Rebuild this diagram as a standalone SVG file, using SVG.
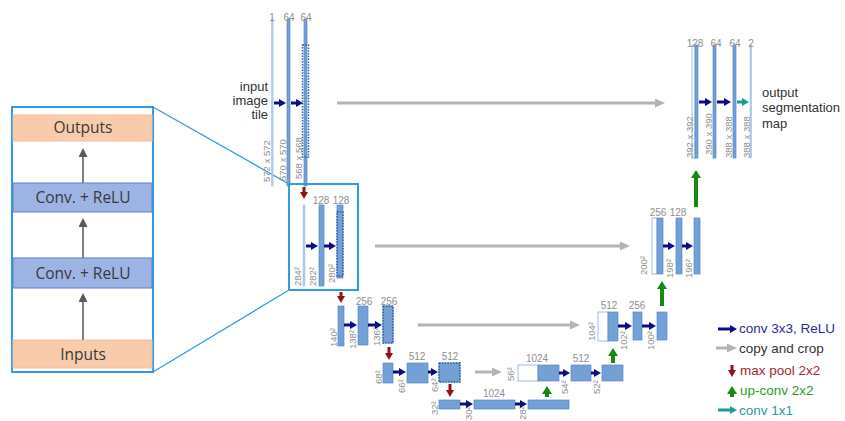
<svg xmlns="http://www.w3.org/2000/svg" width="845" height="421" viewBox="0 0 845 421">
<style>
.bar{fill:#74a0d6;stroke:#5b88c6;stroke-width:0.7}
.lite{fill:#b4cdee;stroke:#9dbbe4;stroke-width:0.5}
.white{fill:#ffffff;stroke:#9dbbe4;stroke-width:1}
.crop{fill:none;stroke:#2d5fae;stroke-width:1.5;stroke-dasharray:1.5 1.3}
.num{font-family:"Liberation Sans",Arial,sans-serif;font-size:10px;fill:#8f8f8f;text-anchor:middle}
.rot{font-family:"Liberation Sans",Arial,sans-serif;font-size:9.5px;fill:#8f8f8f}
.lbl{font-family:"Liberation Sans",Arial,sans-serif;font-size:13px;fill:#333333}
.conv{stroke:#0c0c84;stroke-width:3;fill:none}
.teal{stroke:#1a9a90;stroke-width:3;fill:none}
.copy{stroke:#b4b4b4;stroke-width:3;fill:none}
.pool{stroke:#8b1414;stroke-width:3;fill:none}
.up{stroke:#138a13;stroke-width:4;fill:none}
.box{stroke-width:1}
.peach{fill:#f8cbad;stroke:#f3bf9c}
.blue{fill:#9cb3e3;stroke:#5b7fc6}
.itext{font-family:"Open Sans","Noto Sans",sans-serif;font-size:15.5px;fill:#3a3a3a;text-anchor:middle}
.iarrow{stroke:#808080;stroke-width:2;fill:none}
.frame{fill:none;stroke:#2f9be6;stroke-width:2}
.link{stroke:#2f9be6;stroke-width:1.3;fill:none}
.leg{font-family:"Liberation Sans",Arial,sans-serif;font-size:13.5px}
</style>
<defs>
<marker id="mConv" markerUnits="userSpaceOnUse" markerWidth="7" markerHeight="8" refX="1" refY="4" orient="auto"><path d="M0,0 L7,4 L0,8 Z" fill="#0c0c84"/></marker>
<marker id="mTeal" markerUnits="userSpaceOnUse" markerWidth="7" markerHeight="8" refX="1" refY="4" orient="auto"><path d="M0,0 L7,4 L0,8 Z" fill="#1a9a90"/></marker>
<marker id="mCopy" markerUnits="userSpaceOnUse" markerWidth="10" markerHeight="9" refX="1" refY="4.5" orient="auto"><path d="M0,0 L10,4.5 L0,9 Z" fill="#b4b4b4"/></marker>
<marker id="mPool" markerUnits="userSpaceOnUse" markerWidth="7" markerHeight="8" refX="1" refY="4" orient="auto"><path d="M0,0 L7,4 L0,8 Z" fill="#8b1414"/></marker>
<marker id="mUp" markerUnits="userSpaceOnUse" markerWidth="8" markerHeight="10" refX="1" refY="5" orient="auto"><path d="M0,0 L8,5 L0,10 Z" fill="#138a13"/></marker>
<marker id="mGray" markerUnits="userSpaceOnUse" markerWidth="9" markerHeight="9" refX="1" refY="4.5" orient="auto"><path d="M0,0 L9,4.5 L0,9 Z" fill="#595959"/></marker>
</defs>
<rect width="845" height="421" fill="#ffffff"/>

<!-- inset -->
<g id="inset">
<rect class="frame" x="12" y="107" width="141" height="265"/>
<g id="inset-outputs"><rect class="box peach" x="13" y="115" width="139" height="26"/><text class="itext" x="83" y="133">Outputs</text></g>
<g id="inset-conv2"><rect class="box blue" x="13" y="183" width="139" height="29"/><text class="itext" x="83" y="203">Conv. + ReLU</text></g>
<g id="inset-conv1"><rect class="box blue" x="13" y="258" width="139" height="30"/><text class="itext" x="83" y="279">Conv. + ReLU</text></g>
<g id="inset-inputs"><rect class="box peach" x="13" y="340" width="139" height="28"/><text class="itext" x="83" y="360">Inputs</text></g>
</g>
<g id="inset-connectors">
<line class="iarrow" x1="83" y1="183" x2="83" y2="156" marker-end="url(#mGray)"/>
<line class="iarrow" x1="83" y1="258" x2="83" y2="226" marker-end="url(#mGray)"/>
<line class="iarrow" x1="83" y1="340" x2="83" y2="301" marker-end="url(#mGray)"/>
<line class="link" x1="153" y1="107" x2="289" y2="184"/>
<line class="link" x1="153" y1="372" x2="289" y2="290"/>
</g>

<!-- level 1 encoder -->
<g id="enc1">
<text class="lbl" text-anchor="end" x="268" y="91">input</text>
<text class="lbl" text-anchor="end" x="268" y="105">image</text>
<text class="lbl" text-anchor="end" x="268" y="119">tile</text>
<rect class="lite" x="271.5" y="19" width="1.6" height="167"/>
<rect class="bar" x="287" y="19" width="3" height="167"/>
<rect class="bar" x="304" y="19" width="3" height="167"/>
<rect class="crop" x="302.5" y="45" width="6" height="112"/>
<text class="num" x="272" y="21">1</text>
<text class="num" x="289" y="21">64</text>
<text class="num" x="306" y="21">64</text>
<text class="rot" transform="translate(270,182) rotate(-90)">572 x 572</text>
<text class="rot" transform="translate(286,181) rotate(-90)">570 x 570</text>
<text class="rot" transform="translate(302,179) rotate(-90)">568 x 568</text>
</g>

<!-- level 2 encoder -->
<g id="enc2">
<rect class="frame" x="289" y="184" width="69" height="106" stroke-width="2.5"/>
<rect class="lite" x="303" y="205" width="2" height="81"/>
<rect class="bar" x="319" y="205" width="5" height="81"/>
<rect class="bar" x="337" y="205" width="6" height="73"/>
<rect class="crop" x="337" y="212" width="6" height="64"/>
<text class="num" x="321" y="204">128</text>
<text class="num" x="341" y="204">128</text>
<text class="rot" transform="translate(301,286) rotate(-90)">284²</text>
<text class="rot" transform="translate(316,286) rotate(-90)">282²</text>
<text class="rot" transform="translate(335,283) rotate(-90)">280²</text>
</g>

<!-- level 3 encoder -->
<g id="enc3">
<rect class="bar" x="338" y="306" width="6" height="40"/>
<rect class="bar" x="358" y="306" width="10" height="39"/>
<rect class="bar" x="383" y="306" width="10" height="37"/>
<rect class="crop" x="383" y="306" width="10" height="37"/>
<text class="num" x="364" y="305">256</text>
<text class="num" x="389" y="305">256</text>
<text class="rot" transform="translate(337,347) rotate(-90)">140²</text>
<text class="rot" transform="translate(356,349) rotate(-90)">138²</text>
<text class="rot" transform="translate(380,346) rotate(-90)">136²</text>
</g>

<!-- level 4 encoder -->
<g id="enc4">
<rect class="bar" x="383" y="363" width="10" height="20"/>
<rect class="bar" x="407" y="363" width="21" height="20"/>
<rect class="bar" x="439" y="363" width="21" height="19"/>
<rect class="crop" x="439" y="363" width="21" height="19"/>
<text class="num" x="417" y="360">512</text>
<text class="num" x="450" y="360">512</text>
<text class="rot" transform="translate(382,384) rotate(-90)">68²</text>
<text class="rot" transform="translate(405,393) rotate(-90)">66²</text>
<text class="rot" transform="translate(438,392) rotate(-90)">64²</text>
</g>

<!-- level 5 bottom -->
<g id="bottom">
<rect class="bar" x="439" y="400" width="21" height="9"/>
<rect class="bar" x="474" y="400" width="41" height="9"/>
<rect class="bar" x="528" y="400" width="41" height="9"/>
<text class="num" x="494" y="397">1024</text>
<text class="rot" transform="translate(438,415) rotate(-90)">32²</text>
<text class="rot" transform="translate(472,420) rotate(-90)">30²</text>
<text class="rot" transform="translate(526,420) rotate(-90)">28²</text>
</g>

<!-- level 4 decoder -->
<g id="dec4">
<rect class="white" x="518" y="365" width="20" height="16"/>
<rect class="bar" x="538" y="365" width="21" height="16"/>
<rect class="bar" x="571" y="365" width="20" height="16"/>
<rect class="bar" x="602" y="365" width="21" height="16"/>
<text class="num" x="537" y="362">1024</text>
<text class="num" x="581" y="362">512</text>
<text class="rot" transform="translate(514,381) rotate(-90)">56²</text>
<text class="rot" transform="translate(568,394) rotate(-90)">54²</text>
<text class="rot" transform="translate(600,394) rotate(-90)">52²</text>
</g>

<!-- level 3 decoder -->
<g id="dec3">
<rect class="white" x="598" y="312" width="10" height="29"/>
<rect class="bar" x="608" y="312" width="10" height="29"/>
<rect class="bar" x="633" y="312" width="9" height="28"/>
<rect class="bar" x="657" y="312" width="10" height="28"/>
<text class="num" x="609" y="309">512</text>
<text class="num" x="637" y="309">256</text>
<text class="rot" transform="translate(595,341) rotate(-90)">104²</text>
<text class="rot" transform="translate(627,350) rotate(-90)">102²</text>
<text class="rot" transform="translate(654,350) rotate(-90)">100²</text>
</g>

<!-- level 2 decoder -->
<g id="dec2">
<rect class="white" x="652" y="218" width="5" height="56"/>
<rect class="bar" x="657" y="218" width="6" height="56"/>
<rect class="bar" x="676" y="218" width="6" height="56"/>
<rect class="bar" x="694" y="218" width="6" height="56"/>
<text class="num" x="658" y="216">256</text>
<text class="num" x="678" y="216">128</text>
<text class="rot" transform="translate(647,275) rotate(-90)">200²</text>
<text class="rot" transform="translate(673,278) rotate(-90)">198²</text>
<text class="rot" transform="translate(692,278) rotate(-90)">196²</text>
</g>

<!-- level 1 decoder -->
<g id="dec1">
<rect class="white" x="692" y="45" width="3" height="113"/>
<rect class="bar" x="695" y="45" width="3" height="113"/>
<rect class="bar" x="713" y="45" width="3" height="113"/>
<rect class="bar" x="733" y="45" width="3" height="113"/>
<rect class="lite" x="750" y="45" width="1.6" height="113"/>
<text class="num" x="695" y="47">128</text>
<text class="num" x="716" y="47">64</text>
<text class="num" x="735" y="47">64</text>
<text class="num" x="751" y="47">2</text>
<text class="rot" transform="translate(693,158) rotate(-90)">392 x 392</text>
<text class="rot" transform="translate(712,155) rotate(-90)">390 x 390</text>
<text class="rot" transform="translate(732,158) rotate(-90)">388 x 388</text>
<text class="rot" transform="translate(750,158) rotate(-90)">388 x 388</text>
<text class="lbl" x="762" y="97">output</text>
<text class="lbl" x="762" y="112">segmentation</text>
<text class="lbl" x="762" y="128">map</text>
</g>

<!-- connectors -->
<g id="connectors">
<line class="conv" x1="274" y1="103" x2="280" y2="103" marker-end="url(#mConv)"/>
<line class="conv" x1="291" y1="103" x2="297" y2="103" marker-end="url(#mConv)"/>
<line class="conv" x1="306" y1="246" x2="312" y2="246" marker-end="url(#mConv)"/>
<line class="conv" x1="324" y1="246" x2="330" y2="246" marker-end="url(#mConv)"/>
<line class="conv" x1="344" y1="325" x2="351" y2="325" marker-end="url(#mConv)"/>
<line class="conv" x1="368" y1="325" x2="376" y2="325" marker-end="url(#mConv)"/>
<line class="conv" x1="393" y1="372" x2="400" y2="372" marker-end="url(#mConv)"/>
<line class="conv" x1="428" y1="372" x2="432" y2="372" marker-end="url(#mConv)"/>
<line class="conv" x1="460" y1="404" x2="467" y2="404" marker-end="url(#mConv)"/>
<line class="conv" x1="515" y1="404" x2="521" y2="404" marker-end="url(#mConv)"/>
<line class="conv" x1="559" y1="373" x2="564" y2="373" marker-end="url(#mConv)"/>
<line class="conv" x1="591" y1="373" x2="595" y2="373" marker-end="url(#mConv)"/>
<line class="conv" x1="618" y1="326" x2="626" y2="326" marker-end="url(#mConv)"/>
<line class="conv" x1="642" y1="326" x2="650" y2="326" marker-end="url(#mConv)"/>
<line class="conv" x1="663" y1="246" x2="669" y2="246" marker-end="url(#mConv)"/>
<line class="conv" x1="682" y1="246" x2="687" y2="246" marker-end="url(#mConv)"/>
<line class="conv" x1="699" y1="102" x2="706" y2="102" marker-end="url(#mConv)"/>
<line class="conv" x1="717" y1="102" x2="725" y2="102" marker-end="url(#mConv)"/>
<line class="teal" x1="737" y1="102" x2="743" y2="102" marker-end="url(#mTeal)"/>
<line class="copy" x1="337" y1="103" x2="656" y2="103" marker-end="url(#mCopy)"/>
<line class="copy" x1="375" y1="246" x2="621" y2="246" marker-end="url(#mCopy)"/>
<line class="copy" x1="418" y1="325" x2="571" y2="325" marker-end="url(#mCopy)"/>
<line class="copy" x1="475" y1="372" x2="493" y2="372" marker-end="url(#mCopy)"/>
<line class="pool" x1="304" y1="187" x2="304" y2="193" marker-end="url(#mPool)"/>
<line class="pool" x1="341" y1="292" x2="341" y2="297" marker-end="url(#mPool)"/>
<line class="pool" x1="389" y1="347" x2="389" y2="354" marker-end="url(#mPool)"/>
<line class="pool" x1="450" y1="384" x2="450" y2="391" marker-end="url(#mPool)"/>
<line class="up" x1="547" y1="397" x2="547" y2="393" marker-end="url(#mUp)"/>
<line class="up" x1="613" y1="363" x2="613" y2="355" marker-end="url(#mUp)"/>
<line class="up" x1="662" y1="306" x2="662" y2="288" marker-end="url(#mUp)"/>
<line class="up" x1="696" y1="207" x2="696" y2="177" marker-end="url(#mUp)"/>
</g>

<!-- legend -->
<g id="legend">
<line class="conv" x1="718" y1="329" x2="731" y2="329" marker-end="url(#mConv)"/>
<text class="leg" x="739" y="333" fill="#2b2b96">conv 3x3, ReLU</text>
<line class="copy" x1="716" y1="348" x2="728" y2="348" marker-end="url(#mCopy)"/>
<text class="leg" x="739" y="353" fill="#333333">copy and crop</text>
<line class="pool" x1="732" y1="365" x2="732" y2="371" marker-end="url(#mPool)"/>
<text class="leg" x="740" y="375" fill="#a52a2a">max pool 2x2</text>
<line class="up" x1="732" y1="397" x2="732" y2="393" marker-end="url(#mUp)"/>
<text class="leg" x="740" y="395" fill="#2e9a2e">up-conv 2x2</text>
<line class="teal" x1="718" y1="410" x2="731" y2="410" marker-end="url(#mTeal)"/>
<text class="leg" x="739" y="415" fill="#2a9a9a">conv 1x1</text>
</g>
</svg>
